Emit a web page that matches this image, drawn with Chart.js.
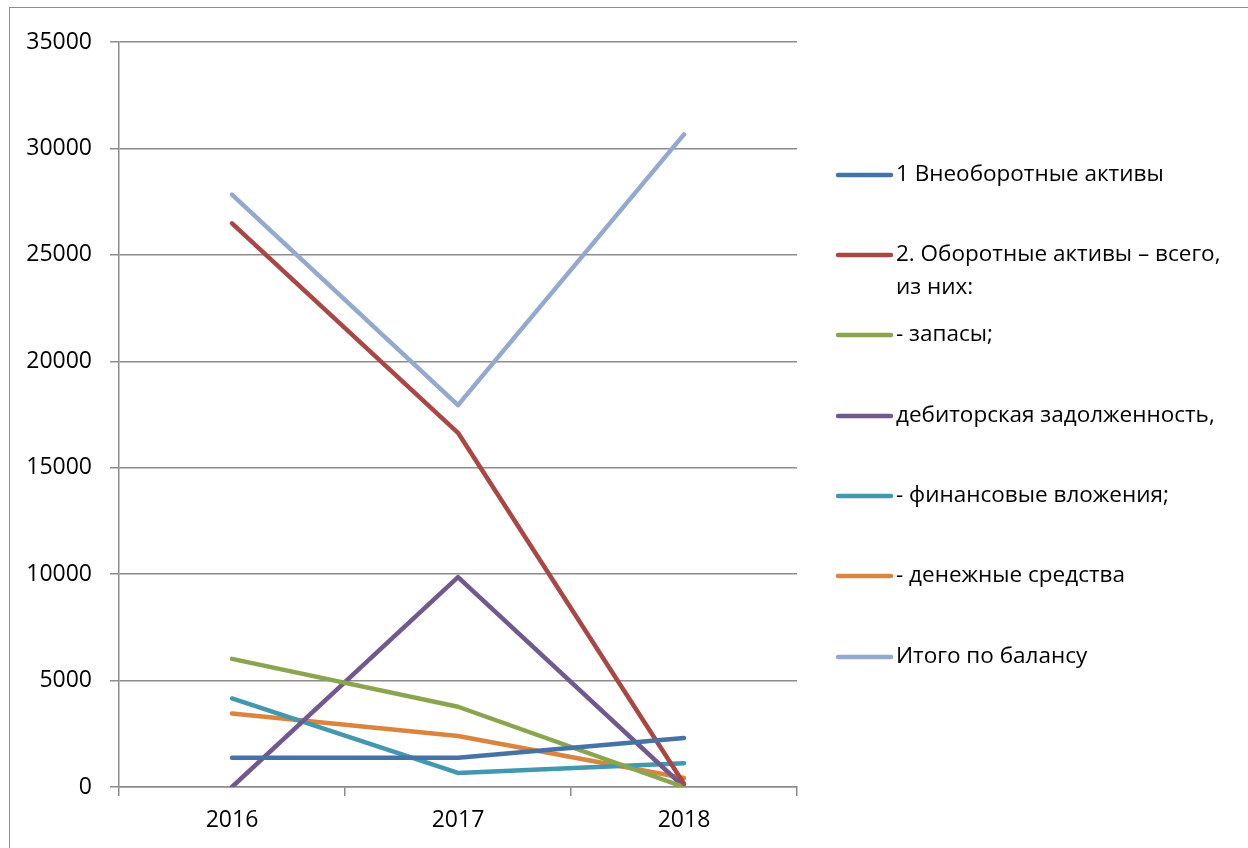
<!DOCTYPE html>
<html>
<head>
<meta charset="utf-8">
<script src="https://cdn.jsdelivr.net/npm/chart.js@4.4.1/dist/chart.umd.min.js"></script>
<style>
    html, body { margin: 0; padding: 0; background: #fff; }
    #wrap { position: relative; width: 1248px; height: 848px; overflow: hidden; }
    #frame { position: absolute; left: 9px; top: 7px; width: 1300px; height: 900px; border: 1px solid #8c8c8c; }
    canvas { position: absolute; left: 0; top: 0; }
</style>
</head>
<body>
<div id="wrap">
    <div id="frame"></div>
    <canvas id="balanceChart" width="1248" height="848"></canvas>
</div>
<script>
// years on the x axis
const years = ['2016', '2017', '2018'];

// values
const nonCurrentAssets = [1370, 1370, 2300];
const currentAssets = [26480, 16640, 150];
const inventories = [6020, 3770, 0];
const receivables = [0, 9860, 0];
const investments = [4160, 660, 1120];
const cash = [3450, 2400, 420];
const balanceTotal = [27830, 17940, 30660];

const seriesNames = [
    ['1 Внеоборотные активы'],
    ['2. Оборотные активы – всего,', 'из них:'],
    ['- запасы;'],
    ['дебиторская задолженность,'],
    ['- финансовые вложения;'],
    ['- денежные средства'],
    ['Итого по балансу']
];
const seriesValues = [nonCurrentAssets, currentAssets, inventories, receivables, investments, cash, balanceTotal];
const seriesColors = ['#4572a7', '#aa4643', '#89a54e', '#71588f', '#4198af', '#db843d', '#93a9cf'];

const yTicks = [0, 5000, 10000, 15000, 20000, 25000, 30000, 35000];

const fontFamily = "'Open Sans', 'DejaVu Sans', sans-serif";
const gridColor = '#8c8c8c';

// Legend drawn by hand so it can sit at Excel-like spacing on the right
const sideLegend = {
    id: 'sideLegend',
    afterDraw(chart) {
        const ctx = chart.ctx;
        const lineX0 = 838, lineX1 = 891, textX = 896;
        const rowY = [175, 255, 335, 416, 496, 576, 657];
        ctx.save();
        ctx.font = '22.5px ' + fontFamily;
        ctx.textBaseline = 'middle';
        ctx.fillStyle = '#000';
        seriesNames.forEach((lines, i) => {
            ctx.strokeStyle = seriesColors[i];
            ctx.lineWidth = 4.5;
            ctx.lineCap = 'round';
            ctx.beginPath();
            ctx.moveTo(lineX0, rowY[i]);
            ctx.lineTo(lineX1, rowY[i]);
            ctx.stroke();
            lines.forEach((txt, j) => {
                ctx.fillText(txt, textX, rowY[i] + j * 33);
            });
        });
        ctx.restore();
    }
};

const ctx = document.getElementById('balanceChart').getContext('2d');

new Chart(ctx, {
    type: 'line',
    data: {
        labels: years,
        datasets: seriesValues.map((vals, i) => ({
            label: seriesNames[i].join(' '),
            data: vals,
            borderColor: seriesColors[i],
            backgroundColor: seriesColors[i],
            borderWidth: 4.5,
            borderCapStyle: 'round',
            borderJoinStyle: 'round',
            pointRadius: 0,
            tension: 0
        }))
    },
    options: {
        responsive: false,
        animation: false,
        layout: { padding: { top: 42, right: 451, bottom: 0, left: 0 } },
        plugins: {
            legend: { display: false },
            tooltip: { enabled: false }
        },
        scales: {
            x: {
                offset: true,
                grid: {
                    offset: true,
                    drawOnChartArea: false,
                    color: gridColor,
                    lineWidth: 1.5,
                    tickLength: 9
                },
                border: { color: gridColor, width: 1.5 },
                ticks: {
                    color: '#000',
                    padding: 11,
                    font: { family: fontFamily, size: 23 }
                },
                afterFit(scale) { scale.height = 61; }
            },
            y: {
                min: 0,
                max: 35000,
                afterBuildTicks(scale) {
                    scale.ticks = yTicks.map(v => ({ value: v }));
                },
                grid: {
                    color: gridColor,
                    lineWidth: 1.5,
                    tickLength: 9
                },
                border: { color: gridColor, width: 1.5 },
                ticks: {
                    color: '#000',
                    padding: 18,
                    font: { family: fontFamily, size: 23 },
                    callback: v => String(v)
                },
                afterFit(scale) { scale.width = 119; }
            }
        }
    },
    plugins: [sideLegend]
});
</script>
</body>
</html>
